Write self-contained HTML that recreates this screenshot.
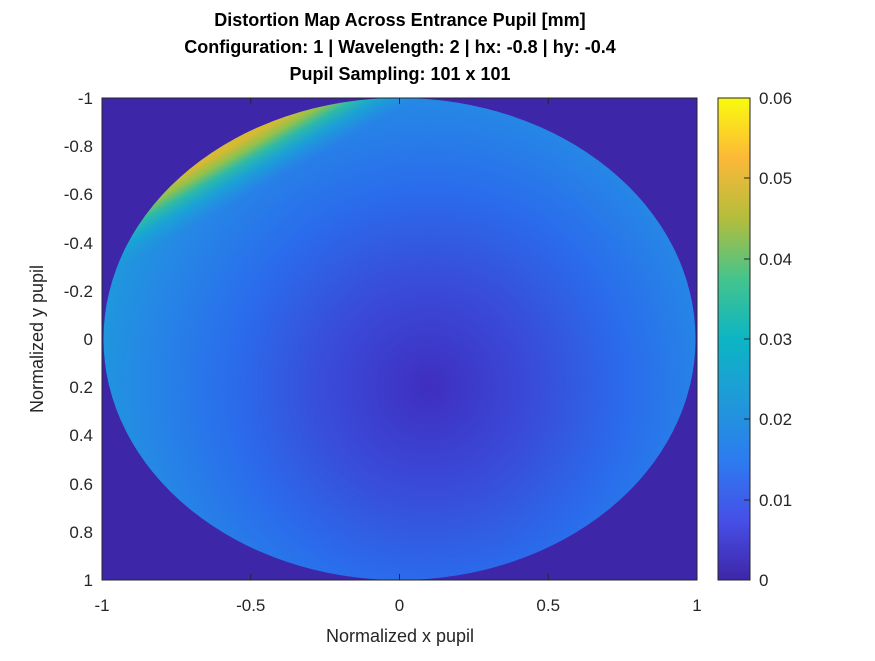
<!DOCTYPE html>
<html><head><meta charset="utf-8"><style>
body{margin:0;background:#fff;}
svg text{font-family:"Liberation Sans",Arial,sans-serif;}
</style></head><body>
<svg width="875" height="656" xmlns="http://www.w3.org/2000/svg">
<defs>
<radialGradient id="base" gradientUnits="userSpaceOnUse" cx="429" cy="387" r="330">
<stop offset="0" stop-color="#3f2ebf"/>
<stop offset="0.3" stop-color="#3a4ad8"/>
<stop offset="0.6" stop-color="#2a6cec"/>
<stop offset="0.85" stop-color="#2686e6"/>
<stop offset="1" stop-color="#1f96de"/>
</radialGradient>
<linearGradient id="streak" gradientUnits="userSpaceOnUse" x1="299" y1="166" x2="274" y2="122">
<stop offset="0" stop-color="#1fa0d8" stop-opacity="0"/>
<stop offset="0.35" stop-color="#14b0cc" stop-opacity="0.6"/>
<stop offset="0.6" stop-color="#2fbfa0" stop-opacity="0.9"/>
<stop offset="0.8" stop-color="#8ec24e" stop-opacity="1"/>
<stop offset="1" stop-color="#d8b932" stop-opacity="1"/>
</linearGradient>
<linearGradient id="cb" x1="0" y1="1" x2="0" y2="0">
<stop offset="0" stop-color="#3e26a8"/>
<stop offset="0.125" stop-color="#4650e8"/>
<stop offset="0.25" stop-color="#2c7cf0"/>
<stop offset="0.375" stop-color="#1f9ad8"/>
<stop offset="0.5" stop-color="#0cb5c4"/>
<stop offset="0.625" stop-color="#44c48c"/>
<stop offset="0.75" stop-color="#b4bd3c"/>
<stop offset="0.875" stop-color="#fcb838"/>
<stop offset="1" stop-color="#f9fb0e"/>
</linearGradient>
<clipPath id="ell"><ellipse cx="399.5" cy="339" rx="296" ry="241"/></clipPath>
</defs>
<text x="400" y="26" font-size="18" font-weight="bold" text-anchor="middle">Distortion Map Across Entrance Pupil [mm]</text>
<text x="400" y="53" font-size="18" font-weight="bold" text-anchor="middle">Configuration: 1 | Wavelength: 2 | hx: -0.8 | hy: -0.4</text>
<text x="400" y="80" font-size="18" font-weight="bold" text-anchor="middle">Pupil Sampling: 101 x 101</text>
<rect x="102" y="98" width="595" height="482" fill="#3e26a8"/>
<ellipse cx="399.5" cy="339" rx="296" ry="241" fill="url(#base)"/>
<rect x="102" y="98" width="595" height="482" fill="url(#streak)" clip-path="url(#ell)"/>
<rect x="102" y="98" width="595" height="482" fill="none" stroke="#262626" stroke-width="1"/>
<g stroke="#262626" stroke-width="1">
<line x1="102" y1="98" x2="102" y2="104"/><line x1="250.75" y1="98" x2="250.75" y2="104"/><line x1="399.5" y1="98" x2="399.5" y2="104"/><line x1="548.25" y1="98" x2="548.25" y2="104"/><line x1="697" y1="98" x2="697" y2="104"/>
<line x1="102" y1="580" x2="102" y2="574"/><line x1="250.75" y1="580" x2="250.75" y2="574"/><line x1="399.5" y1="580" x2="399.5" y2="574"/><line x1="548.25" y1="580" x2="548.25" y2="574"/><line x1="697" y1="580" x2="697" y2="574"/>
</g>
<g font-size="17" text-anchor="end" fill="#262626">
<text x="93" y="104">-1</text><text x="93" y="152">-0.8</text><text x="93" y="200">-0.6</text><text x="93" y="249">-0.4</text><text x="93" y="297">-0.2</text><text x="93" y="345">0</text><text x="93" y="393">0.2</text><text x="93" y="441">0.4</text><text x="93" y="490">0.6</text><text x="93" y="538">0.8</text><text x="93" y="586">1</text>
</g>
<g font-size="17" text-anchor="middle" fill="#262626">
<text x="102" y="611">-1</text><text x="250.75" y="611">-0.5</text><text x="399.5" y="611">0</text><text x="548.25" y="611">0.5</text><text x="697" y="611">1</text>
</g>
<text x="400" y="642" font-size="18" text-anchor="middle" fill="#262626">Normalized x pupil</text>
<text transform="translate(43,339) rotate(-90)" font-size="18" text-anchor="middle" fill="#262626">Normalized y pupil</text>
<rect x="718" y="98" width="32" height="482" fill="url(#cb)" stroke="#262626" stroke-width="1"/>
<g stroke="#262626"><line x1="744" y1="98" x2="750" y2="98"/><line x1="744" y1="178" x2="750" y2="178"/><line x1="744" y1="259" x2="750" y2="259"/><line x1="744" y1="339" x2="750" y2="339"/><line x1="744" y1="419" x2="750" y2="419"/><line x1="744" y1="500" x2="750" y2="500"/></g>
<g font-size="17" fill="#262626">
<text x="759" y="104">0.06</text><text x="759" y="184">0.05</text><text x="759" y="265">0.04</text><text x="759" y="345">0.03</text><text x="759" y="425">0.02</text><text x="759" y="506">0.01</text><text x="759" y="586">0</text>
</g>
</svg>
</body></html>
